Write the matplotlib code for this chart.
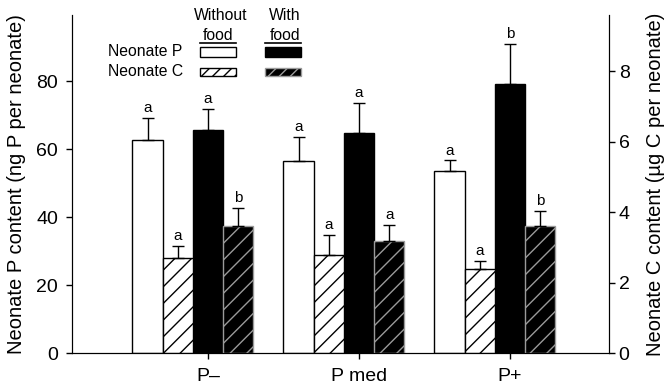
import numpy as np
import matplotlib
matplotlib.use("Agg")
import matplotlib.pyplot as plt
from matplotlib.patches import Rectangle
from matplotlib.lines import Line2D

plt.rcParams['font.family'] = ['Liberation Sans', 'DejaVu Sans']
plt.rcParams['hatch.linewidth'] = 1.0

# Data
groups = ["P\u2013", "P med", "P+"]
p_nofood = [62.6, 56.4, 53.6]      # ng P per neonate
p_nofood_err = [6.7, 7.2, 3.1]
p_food = [65.6, 64.9, 79.1]
p_food_err = [6.2, 8.8, 12.0]
c_nofood = [2.69, 2.79, 2.37]      # ug C per neonate
c_nofood_err = [0.35, 0.57, 0.24]
c_food = [3.59, 3.17, 3.59]
c_food_err = [0.52, 0.47, 0.45]

# significance letters
p_nofood_let = ["a", "a", "a"]
c_nofood_let = ["a", "a", "a"]
p_food_let = ["a", "a", "b"]
c_food_let = ["b", "a", "b"]

W, H = 669, 386
fig = plt.figure(figsize=(W / 100, H / 100), dpi=100)
ax = fig.add_axes([72 / W, 33 / H, (609 - 72) / W, (353 - 15) / H])
ax2 = ax.twinx()

x = np.arange(len(groups))
w = 0.2


def draw(axis, pos, vals, errs, letters, **kw):
    axis.bar(pos, vals, w, linewidth=1, **kw)
    lo = np.zeros(len(vals))
    axis.errorbar(pos, vals, yerr=[lo, errs], fmt='none', ecolor='black',
                  elinewidth=1, capsize=4, capthick=1)
    for xi, v, e, t in zip(pos, vals, errs, letters):
        axis.annotate(t, (xi, v + e), xytext=(0, 2), textcoords='offset points',
                      ha='center', va='bottom', fontsize=11)


draw(ax, x - 2 * w, p_nofood, p_nofood_err, p_nofood_let,
     color='white', edgecolor='black')
draw(ax, x, p_food, p_food_err, p_food_let,
     color='black', edgecolor='black')
draw(ax2, x - w, c_nofood, c_nofood_err, c_nofood_let,
     color='white', edgecolor='black', hatch='//')
draw(ax2, x + w, c_food, c_food_err, c_food_let,
     color='black', edgecolor='#9a9a9a', hatch='//')

# axes
ax.set_xlim(-0.9, 2.656)
ax.set_ylim(0, 99.5)
ax2.set_ylim(0, 9.59)
ax.set_xticks(x)
ax.set_xticklabels(groups)
ax.set_yticks([0, 20, 40, 60, 80])
ax2.set_yticks([0, 2, 4, 6, 8])
for a in (ax, ax2):
    a.spines['top'].set_visible(False)
    a.tick_params(direction='out', length=4, width=1, labelsize=14)
ax.tick_params(axis='y', pad=6)
ax.tick_params(axis='x', pad=7)
ax2.tick_params(axis='y', pad=3)

ax.set_ylabel("Neonate P content (ng P per neonate)", fontsize=14.5)
ax.yaxis.set_label_coords(-0.085, 0.5)
ax2.set_ylabel("Neonate C content (\u00b5g C per neonate)", fontsize=14.5)
ax2.yaxis.set_label_coords(1.069, 0.5)

# hand-made legend (pixel coordinates of the figure)
def fx(px):
    return px / W


def fy(py):
    return (H - py) / H


fs = 11.3
fig.text(fx(221), fy(16), "Without", ha='center', va='center', fontsize=fs)
fig.text(fx(218), fy(35), "food", ha='center', va='center', fontsize=fs)
fig.text(fx(285), fy(16), "With", ha='center', va='center', fontsize=fs)
fig.text(fx(285), fy(35), "food", ha='center', va='center', fontsize=fs)
fig.add_artist(Line2D([fx(200), fx(236)], [fy(43), fy(43)], color='black', lw=1.2))
fig.add_artist(Line2D([fx(265), fx(301)], [fy(43), fy(43)], color='black', lw=1.2))
fig.text(fx(108), fy(52), "Neonate P", ha='left', va='center', fontsize=fs)
fig.text(fx(108), fy(72), "Neonate C", ha='left', va='center', fontsize=fs)

boxes = [
    (200, 47, 10, dict(facecolor='white', edgecolor='black')),
    (265, 47, 10, dict(facecolor='black', edgecolor='black')),
    (200, 68, 8, dict(facecolor='white', edgecolor='black', hatch='///')),
    (265, 68, 8, dict(facecolor='black', edgecolor='#9a9a9a', hatch='///')),
]
for bx, by, bh, st in boxes:
    fig.add_artist(Rectangle((fx(bx), fy(by + bh)), 36 / W, bh / H,
                             transform=fig.transFigure, linewidth=1, **st))

fig.savefig("out.png", dpi=100)
